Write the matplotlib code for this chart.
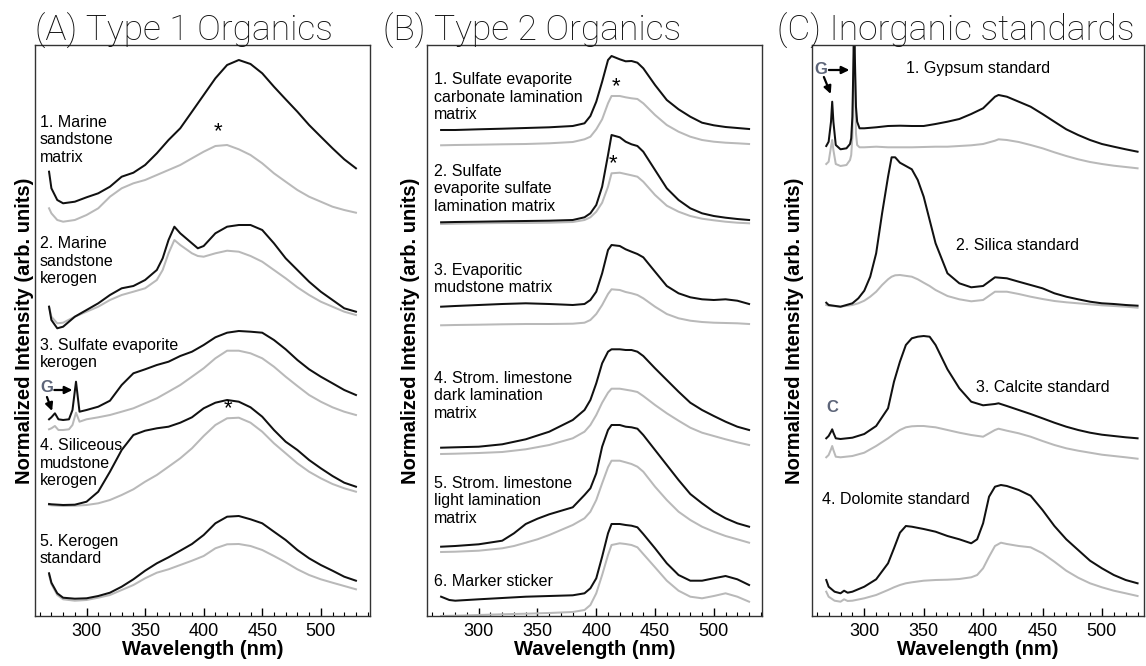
import numpy as np
import matplotlib
matplotlib.use("Agg")
import matplotlib.pyplot as plt
from matplotlib.ticker import MultipleLocator

plt.rcParams['font.family'] = ['Liberation Sans', 'DejaVu Sans']

# ---- (A) Type 1 Organics -------------------------------------------------
wl_a1 = [268, 270, 275, 280] + list(range(290, 531, 10))
a1_black = [54.3, 37.7, 26, 22.7, 24.3, 28.7, 32.7, 39.3, 49.3, 53.3, 61, 72.7, 86, 97.7,
            114.3, 131, 147.7, 161, 166, 162, 152.7, 139.3, 126.7, 114.3, 101, 89.3, 77.7,
            66.7, 57.7]
a1_gray = [17.7, 12.7, 6, 4.3, 6, 11, 17.7, 29.3, 37.7, 42.7, 46, 51, 56, 61, 67.7, 74.3,
           80, 81, 76.7, 71, 62.7, 52.7, 44.3, 36, 29.3, 24.3, 19.3, 16, 13.3]

wl_a2 = [268, 270, 275, 280, 290, 300, 310, 320, 330, 340, 350, 360, 365, 370, 375, 380,
         390, 395] + list(range(400, 531, 10))
a2_black = [24.3, 11, 2.7, 4.3, 14.3, 21, 27.7, 36, 42.7, 45, 51, 61, 72.7, 91, 104.3,
            97.7, 87.7, 82.7, 85, 97.7, 104.3, 106, 106, 101, 87.7, 72.7, 61, 49.3, 39.3,
            31, 22.7, 19.3]
a2_gray = [24.3, 14.3, 7.7, 8.3, 14.3, 19.3, 24.3, 31, 36, 39.3, 42.7, 51, 61, 77.7, 91,
           86, 77.7, 75, 74.3, 77.7, 80.3, 79.3, 75, 69.3, 61, 52.7, 43.7, 36, 29.3, 24.3,
           19.3, 16]

wl_a3 = [268, 270, 273, 276, 280, 285, 288, 291, 294] + list(range(300, 531, 10))
a3_black = [11.7, 13.7, 17.7, 11.7, 11, 11.7, 21, 49.3, 19.3, 21, 24.3, 30.3, 46, 57.7,
            61.7, 66, 69.3, 75, 79.3, 86, 93.7, 98.3, 100, 99.3, 98.3, 91, 81.7, 71, 61.7,
            54.3, 47.7, 41, 36]
a3_gray = [1.7, 2.7, 5, 1, 1, 1.7, 6, 18.3, 9.3, 11.7, 13.7, 16, 19.3, 22.7, 27.7, 32.7,
           39.3, 46, 54.3, 62.7, 72.7, 80.3, 80.3, 77.7, 72.7, 64.3, 54.3, 45, 36, 29.3,
           23.7, 19.3, 16]

wl_a4 = [268, 270] + list(range(280, 531, 10))
a4_black = [4, 3.7, 3, 3.3, 6.3, 16.3, 36.3, 58, 73, 77.3, 79.7, 81.3, 85.3, 90.7, 99.7,
            105.3, 108, 106.3, 100.7, 91.3, 78, 66.3, 58, 48, 39.7, 32, 25.3, 21.3]
a4_gray = [3, 2.7, 2, 2.3, 3, 4.7, 8, 13, 18.7, 26.3, 33, 41.3, 49.7, 59.7, 72, 83, 89.7,
           90.3, 85.3, 76.3, 64.7, 54.7, 44.7, 36.3, 29.7, 24, 19.7, 16.3]

wl_a5 = [268, 270, 275, 280] + list(range(290, 531, 10))
a5_black = [28.7, 19.3, 8.7, 4.3, 3.3, 3.7, 6, 9.3, 15.3, 22.7, 31.3, 38.7, 44.7, 51.3,
            58, 67, 78.7, 85.3, 86, 82.7, 78.7, 70.3, 62, 52, 43.7, 37, 31.3, 25.3, 21.3]
a5_gray = [27, 18, 7, 2.7, 1.3, 2, 4.3, 7, 12, 17, 23.7, 29.3, 32.7, 37, 41.3, 46, 53.7,
           57.7, 58, 56, 52, 46, 39.7, 32.7, 27, 22.7, 19.3, 16, 12.7]

labels_a = ["1. Marine\nsandstone\nmatrix", "2. Marine\nsandstone\nkerogen",
            "3. Sulfate evaporite\nkerogen", "4. Siliceous\nmudstone\nkerogen",
            "5. Kerogen\nstandard"]
offsets_a = [390, 285, 185, 108, 14]

# ---- (B) Type 2 Organics -------------------------------------------------
wl_b = [268, 280, 300, 320, 340, 360, 380, 390, 395, 400, 405, 410, 413, 420, 425, 430,
        435, 440, 450, 460, 470, 480, 490, 500, 510, 520, 530]
b1_black = [18, 18, 18.7, 19.3, 20, 20.7, 22, 24.7, 32, 46.3, 66.3, 88, 92, 88.7, 86.7,
            87, 85.3, 79.7, 63, 48, 38.7, 31.3, 25.3, 22.7, 21, 20, 19]
b1_gray = [2.7, 3, 3.3, 3.7, 4, 4.7, 6, 8.7, 11.3, 18.7, 28.7, 44.7, 52, 52, 50.7, 49.7,
           49, 44.7, 33, 23, 16.3, 11.3, 8, 6.3, 5.3, 4.7, 4]
b2_black = [3.7, 4, 4.3, 4.7, 5, 5.3, 6, 8.7, 12.7, 21, 39.3, 71, 91, 88.7, 84.3, 81.7,
            80, 74.3, 56, 37.7, 26, 17.7, 12.7, 10, 8.3, 7, 6]
b2_gray = [2, 2.3, 2.7, 3, 3, 3.3, 4, 6, 8.7, 14.3, 23.3, 39.3, 52.7, 53.3, 52, 50.7,
           49.3, 44.3, 31, 20.3, 14.3, 10, 7.3, 5.7, 4.3, 3.3, 2.7]
b3_black = [21.3, 22, 23, 24, 24.7, 24, 23, 24, 28, 36.3, 54.7, 78, 83, 82, 78.7, 76.3,
            74, 70.7, 56.3, 42, 34.7, 30.7, 28.7, 28, 28.7, 27.3, 24]
b3_gray = [2.7, 3, 3.3, 3.7, 4, 4, 4.3, 5.3, 8, 14, 23, 34, 38.7, 38, 36, 34.7, 33, 29.7,
           21.3, 14, 9.7, 7.3, 6, 5.3, 5, 4.7, 4]
b4_black = [8.3, 8.7, 9.3, 11.7, 16.7, 24.3, 36, 46, 56, 72.7, 92.7, 104.3, 106.7, 106.7,
            106, 106, 104.3, 100, 87.7, 76, 64.3, 53.3, 46, 40, 34.3, 29.3, 26]
b4_gray = [2, 2.3, 3, 4, 6.7, 11, 17.7, 24.3, 31, 41, 53.3, 63.3, 67.3, 67.3, 66.3, 65.3,
           64, 60, 51, 42.7, 35.3, 28.3, 23.3, 20, 16.7, 13.7, 11]

wl_b5 = [268, 280, 300, 320, 330, 340, 350, 360, 380, 390, 395, 400, 405, 410, 413, 420,
         425, 430, 435, 440, 450, 460, 470, 480, 490, 500, 510, 520, 530]
b5_black = [7.3, 8, 9.7, 13.3, 20.7, 30, 35.3, 39.7, 46.7, 59, 65.7, 80.7, 107.3, 124,
            129, 129, 127.3, 126.7, 125.3, 119, 104, 89, 74, 60, 50.7, 42.3, 35.7, 30.7,
            27.3]
b5_gray = [2, 2.3, 3.3, 5.7, 8, 11.3, 14.7, 19, 29, 35.7, 42.3, 54, 70.7, 86.7, 93.3,
           93.3, 91.7, 90, 87.3, 82.3, 67.3, 54, 42.3, 34, 27.3, 22.3, 18, 14.7, 11.3]

wl_b6 = [268, 275, 280, 300, 320, 340, 360, 380, 390, 395, 400, 405, 410, 413, 420, 425,
         430, 435, 440, 450, 460, 470, 480, 490, 500, 510, 520, 530]
b6_black = [19.3, 16, 15.3, 16.7, 18, 19.3, 20, 20.7, 22.7, 27.7, 37.7, 59.3, 82.7, 92,
            92, 91, 90.3, 88.7, 82, 67.7, 52.7, 41, 35.3, 35.3, 37.7, 40, 36.7, 31]
b6_gray = [0, 0.2, 0.3, 1, 1.7, 2.3, 3, 4, 6, 11, 22.7, 41, 61, 71, 72.7, 72, 71, 68.7,
           62, 48.7, 35.3, 25.3, 19.3, 17.7, 20, 22.7, 19.3, 14.3]

labels_b = ["1. Sulfate evaporite\ncarbonate lamination\nmatrix",
            "2. Sulfate\nevaporite sulfate\nlamination matrix",
            "3. Evaporitic\nmudstone matrix",
            "4. Strom. limestone\ndark lamination\nmatrix",
            "5. Strom. limestone\nlight lamination\nmatrix",
            "6. Marker sticker"]
offsets_b = [468, 390, 288, 160, 62, 0]

# ---- (C) Inorganic standards ---------------------------------------------
wl_c1 = [268, 270, 272, 273, 274, 276, 280, 285, 288, 289, 290, 291, 291.5, 292, 293, 294,
         296] + list(range(300, 411, 10)) + [413] + list(range(420, 531, 10))
c1_black = [24, 28.3, 48.3, 68.3, 48.3, 25, 20.7, 21.7, 26, 31.7, 53.3, 116.7, 180, 116.7,
            63.3, 48.3, 41.7, 41.7, 42.7, 44, 44.3, 44, 44, 46, 48.3, 51, 56, 61.7, 73.3,
            75, 73.3, 68.3, 63.3, 56, 48.3, 40.7, 35, 30, 26, 23.3, 20.7, 18.3]
c1_gray = [6, 8.3, 23.3, 30, 20, 6, 4, 5, 10, 15, 33.3, 110, 180, 110, 36.7, 25, 22.7,
           22.7, 23.3, 22.7, 22.7, 22.7, 23, 23.3, 23.3, 24, 24.7, 26, 29.3, 30.7, 30, 28,
           25, 21.7, 17.7, 14, 10.7, 8, 6, 4.3, 3, 1.7]

wl_c2 = [268, 270, 280, 290, 295, 300, 305, 310, 315, 320, 323, 326, 330, 340, 345, 350,
         355, 360] + list(range(370, 531, 10))
c2_black = [7.3, 5, 3.3, 6.7, 11.7, 19.3, 33.3, 56.7, 96.7, 133.3, 152.7, 152.7, 147.3,
            140.7, 130, 113.3, 90, 66.7, 36.7, 26.7, 22.7, 24, 32.7, 31.7, 28.3, 25, 21.7,
            16.7, 13.3, 10.7, 8.3, 6.7, 6, 5, 4.3]
c2_gray = [5, 4.3, 3.3, 5, 6.7, 9.3, 13.3, 18.3, 25, 30.7, 33.3, 34.7, 35, 33.3, 30.7,
           27.3, 24, 20, 14, 10.7, 8.7, 10, 18.3, 18.3, 16, 13.3, 11, 9, 7.7, 6.7, 5.7,
           4.7, 4, 3.3, 2.3]

wl_c3 = [268, 270, 272, 273, 274, 276, 280, 290, 300, 310, 320, 325, 330, 335, 340, 345,
         350, 355, 360, 370, 380, 390, 400, 410, 413] + list(range(420, 531, 10))
c3_black = [22.7, 25, 29.3, 31.7, 28.3, 22.7, 22, 23.3, 27, 35, 52.7, 79.3, 99.3, 116,
            122.7, 124.3, 125, 124.3, 116, 91.7, 72.7, 59.3, 55.7, 57, 57.7, 55, 51, 47,
            42.7, 38.3, 34.3, 31, 28.3, 26.3, 25, 23.7, 22.7]
c3_gray = [3.7, 6, 11.7, 15, 11, 4.3, 3.7, 5, 8.3, 15, 22.7, 27, 31, 33.7, 34.7, 35, 35,
           34.3, 33.7, 31, 28.3, 26, 24.3, 31, 32.3, 30.3, 27.7, 24.3, 20, 16, 12.7, 10.3,
           8.3, 6.3, 5, 3.7, 2.3]

wl_c4 = [268, 270, 275, 280, 283, 286, 290, 300, 310, 320, 325, 330, 335, 340, 350, 360,
         370, 380, 390, 395, 400, 405, 410, 415] + list(range(420, 531, 10))
c4_black = [24, 17.3, 12.3, 10.7, 13.3, 11.3, 12.3, 17.3, 24.7, 40.7, 55.7, 71.3, 78,
            77.3, 75, 72.3, 68, 64.7, 60.7, 64.7, 80.7, 107.3, 117.3, 119, 118, 114, 108.3,
            94, 78, 64.7, 54, 43.3, 35.7, 29, 24, 20.7]
c4_gray = [12.3, 7.3, 3.3, 2.3, 4.7, 3, 3.3, 5.7, 9, 14, 16.7, 19, 20.7, 21.7, 23.3, 24,
           24.3, 25, 26.7, 29, 35.7, 47.3, 58, 61.3, 60, 58, 56.7, 50.7, 42.3, 33.3, 26.3,
           20.7, 16.7, 13.3, 10.7, 8]

labels_c = ["1. Gypsum standard", "2. Silica standard", "3. Calcite standard",
            "4. Dolomite standard"]
offsets_c = [446, 306, 155, 12]

GRAY = '#b9b9b9'
NOTE = '#5d6579'
LW = 1.45
LABEL_FS = 11.5

fig = plt.figure(figsize=(11.46, 6.66), dpi=100)


def make_axes(left_px, width_px, xlim):
    ax = fig.add_axes([left_px / 1146, 50 / 666, width_px / 1146, 571 / 666])
    ax.set_xlim(*xlim)
    ax.set_ylim(0, 571)
    ax.set_yticks([])
    ax.xaxis.set_major_locator(MultipleLocator(50))
    ax.xaxis.set_minor_locator(MultipleLocator(10))
    ax.tick_params(axis='x', which='both', direction='in', top=False, pad=5,
                   labelsize=13)
    ax.tick_params(axis='x', which='major', length=6, width=1)
    ax.tick_params(axis='x', which='minor', length=3, width=0.8)
    for s in ax.spines.values():
        s.set_linewidth(1.0)
        s.set_color('#333333')
    ax.set_xlabel('Wavelength (nm)', fontsize=14.5, fontweight='bold', labelpad=0)
    return ax


def draw(ax, wl, black, gray, off):
    ax.plot(wl, np.asarray(gray) + off, color=GRAY, lw=LW, solid_joinstyle='round')
    ax.plot(wl, np.asarray(black) + off, color='#111111', lw=LW, solid_joinstyle='round')


def arrow(ax, start, end):
    ax.annotate('', xy=end, xytext=start,
                arrowprops=dict(arrowstyle='-|>,head_length=0.45,head_width=0.22',
                                color='black', lw=1.6, shrinkA=0, shrinkB=0))


ax_a = make_axes(35, 335, (256, 542))
ax_b = make_axes(427, 335, (256, 541))
ax_c = make_axes(812, 331.5, (256, 535))

# panel A
for wl, k, g, off in zip([wl_a1, wl_a2, wl_a3, wl_a4, wl_a5],
                         [a1_black, a2_black, a3_black, a4_black, a5_black],
                         [a1_gray, a2_gray, a3_gray, a4_gray, a5_gray], offsets_a):
    draw(ax_a, wl, k, g, off)
for lab, y in zip(labels_a, [476, 355, 262, 153, 66]):
    ax_a.text(260.2, y, lab, fontsize=LABEL_FS, ha='left', va='center')
ax_a.text(412, 484, '*', fontsize=16, ha='center', va='center')
ax_a.text(420.8, 207, '*', fontsize=16, ha='center', va='center')
ax_a.text(265.9, 228, 'G', fontsize=12, fontweight='bold', color=NOTE,
          ha='center', va='center')
arrow(ax_a, (272.5, 226), (288, 226))
arrow(ax_a, (266.2, 219), (270.6, 205))

# panel B
for wl, k, g, off in zip([wl_b, wl_b, wl_b, wl_b, wl_b5, wl_b6],
                         [b1_black, b2_black, b3_black, b4_black, b5_black, b6_black],
                         [b1_gray, b2_gray, b3_gray, b4_gray, b5_gray, b6_gray],
                         offsets_b):
    draw(ax_b, wl, k, g, off)
for lab, y in zip(labels_b, [519, 427, 337, 220, 115, 34]):
    ax_b.text(261.7, y, lab, fontsize=LABEL_FS, ha='left', va='center')
ax_b.text(417.2, 529, '*', fontsize=16, ha='center', va='center')
ax_b.text(414.4, 452, '*', fontsize=16, ha='center', va='center')

# panel C
for wl, k, g, off in zip([wl_c1, wl_c2, wl_c3, wl_c4],
                         [c1_black, c2_black, c3_black, c4_black],
                         [c1_gray, c2_gray, c3_gray, c4_gray], offsets_c):
    draw(ax_c, wl, k, g, off)
for lab, x, y in zip(labels_c, [335.2, 377.4, 394.3, 264.8], [547, 371, 228, 117]):
    ax_c.text(x, y, lab, fontsize=LABEL_FS, ha='left', va='center')
ax_c.text(263.4, 547, 'G', fontsize=12, fontweight='bold', color=NOTE,
          ha='center', va='center')
arrow(ax_c, (270.2, 546), (287.5, 546))
arrow(ax_c, (266.0, 539), (271.8, 522))
ax_c.text(273.2, 208, 'C', fontsize=12, fontweight='bold', color=NOTE,
          ha='center', va='center')

# panel titles and shared y labels
for x, t in zip([35, 383, 777], ["(A) Type 1 Organics", "(B) Type 2 Organics",
                                 "(C) Inorganic standards"]):
    fig.text(x / 1146, 1 - 41 / 666, t, fontsize=25.5, family=['Roboto', 'DejaVu Sans'],
             fontweight='light', ha='left', va='baseline', color='#111111')
for x in [25, 410, 795]:
    fig.text(x / 1146, 1 - 330.5 / 666, 'Normalized Intensity (arb. units)',
             fontsize=14.5, fontweight='bold', rotation=90, ha='center', va='center')

fig.savefig('out.png', dpi=100)
